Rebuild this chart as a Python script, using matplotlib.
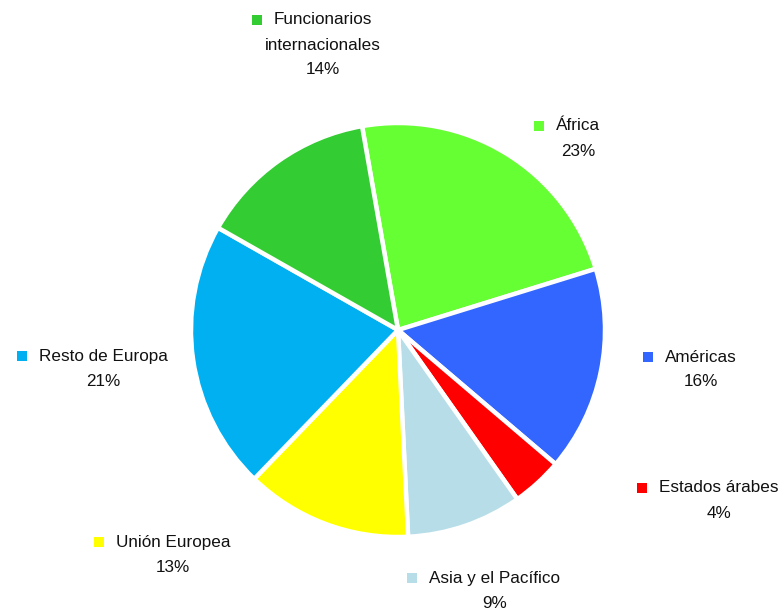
import numpy as np
import matplotlib
matplotlib.use('Agg')
from matplotlib import pyplot as plt

# datos
regiones = ['África', 'Américas', 'Estados árabes', 'Asia y el Pacífico',
            'Unión Europea', 'Resto de Europa', 'Funcionarios\ninternacionales']
porcentajes = [23, 16, 4, 9, 13, 21, 14]
colores = ['#66FF33', '#3366FF', '#FF0000', '#B7DEE8',
           '#FFFF00', '#00B0F0', '#33CC33']

# posiciones de las etiquetas (pixeles, centro del bloque)
pos_etiquetas = [(578, 126), (701, 357), (719, 488), (495, 578),
                 (173, 542), (103, 356), (323, 20)]

plt.rcParams['font.family'] = ['Liberation Sans', 'DejaVu Sans']

W, H = 784, 612
fig = plt.figure(figsize=(W / 100, H / 100), dpi=100)
ax = fig.add_axes([0, 0, 1, 1])

ax.pie(porcentajes, colors=colores, startangle=100, counterclock=False,
       center=(398, H - 330), radius=207, explode=[0.012] * len(porcentajes),
       wedgeprops=dict(edgecolor='white', linewidth=3.2))
ax.set_xlim(0, W)
ax.set_ylim(0, H)
ax.set_aspect('equal')
ax.axis('off')

fs = 12.3
lh = 25
fig.canvas.draw()
renderer = fig.canvas.get_renderer()
for nombre, pct, col, (x, y) in zip(regiones, porcentajes, colores, pos_etiquetas):
    lineas = nombre.split('\n') + [f'{pct}%']
    for i, linea in enumerate(lineas):
        t = ax.text(x, H - (y + i * lh), linea, fontsize=fs,
                    ha='center', va='center', color='#111111')
        if i == 0:
            bb = t.get_window_extent(renderer=renderer)
            ax.scatter([bb.x0 - 17], [H - y], marker='s', s=60,
                       color=col, linewidths=0)

fig.savefig('out.png', dpi=100)
